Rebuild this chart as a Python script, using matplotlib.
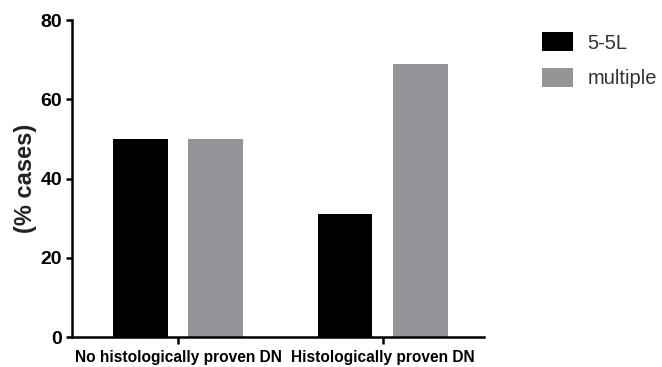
import numpy as np
import matplotlib
matplotlib.use("Agg")
import matplotlib.pyplot as plt

plt.rcParams['font.family'] = ['Liberation Sans', 'DejaVu Sans']

# data
groups = ["No histologically proven DN", "Histologically proven DN"]
series_names = ["5-5L", "multiple"]
vals_55l = [50, 31]
vals_multiple = [50, 69]
colors = ["#000000", "#939598"]

fig = plt.figure(figsize=(6.62, 3.67), dpi=100)
ax = fig.add_axes([0.1088, 0.0817, 0.731 - 0.1088, 0.9455 - 0.0817])

x = np.arange(len(groups))
w = 0.268
off = 0.185
b1 = ax.bar(x - off, vals_55l, w, color=colors[0], label=series_names[0])
b2 = ax.bar(x + off, vals_multiple, w, color=colors[1], label=series_names[1])

ax.set_xlim(-0.517, 1.493)
ax.set_ylim(0, 80)
ax.set_yticks([0, 20, 40, 60, 80])
ax.set_xticks(x)
ax.set_xticklabels(groups, fontsize=11.2, fontweight='bold')
ax.set_ylabel("(% cases)", fontsize=17, fontweight='bold', color='#222222', labelpad=3)

for lab in ax.get_yticklabels():
    lab.set_fontsize(14)
    lab.set_fontweight('bold')

ax.spines['top'].set_visible(False)
ax.spines['right'].set_visible(False)
for s in ['left', 'bottom']:
    ax.spines[s].set_linewidth(1.8)
ax.tick_params(axis='y', direction='out', length=4, width=1.8, pad=3)
ax.tick_params(axis='x', direction='out', length=5, width=1.8, pad=4)

fig.legend(handles=[b1, b2], labels=series_names, loc='upper left',
           bbox_to_anchor=(542 / 662, 1 - 32 / 367), frameon=False,
           fontsize=14.5, handlelength=1.55, handleheight=1.1,
           labelspacing=0.75, handletextpad=0.7, borderpad=0,
           borderaxespad=0, labelcolor='#333333')

fig.savefig("out.png", dpi=100)
